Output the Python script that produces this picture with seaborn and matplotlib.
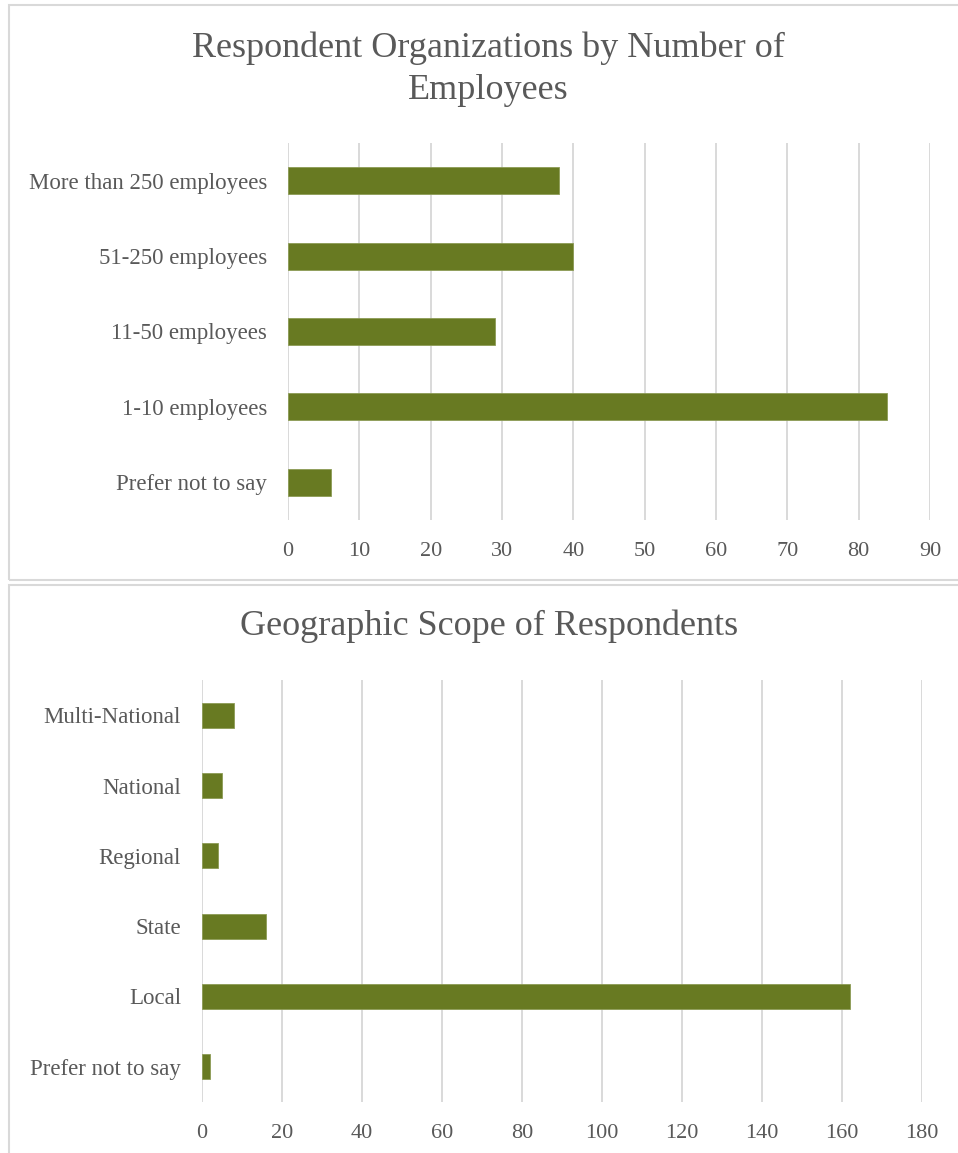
import matplotlib
matplotlib.use("Agg")
import matplotlib.pyplot as plt
from matplotlib.patches import Rectangle
import seaborn as sns
import pandas as pd

# data
size_labels = [
    "More than 250 employees",
    "51-250 employees",
    "11-50 employees",
    "1-10 employees",
    "Prefer not to say",
]
size_counts = [38, 40, 29, 84, 6]

scope_labels = [
    "Multi-National",
    "National",
    "Regional",
    "State",
    "Local",
    "Prefer not to say",
]
scope_counts = [8, 5, 4, 16, 162, 2]

bar_color = "#687a22"
text_color = "#595959"
grid_color = "#d9d9d9"

sns.set_style("whitegrid")
plt.rcParams["font.family"] = ["Liberation Serif", "DejaVu Serif"]

W, H = 958, 1153
fig = plt.figure(figsize=(W / 100, H / 100), dpi=100)


def px_axes(left, top, right, bottom):
    return fig.add_axes(
        [left / W, 1 - bottom / H, (right - left) / W, (bottom - top) / H]
    )


def style(ax, xmax, step):
    ax.set_xlim(0, xmax)
    ax.set_xticks(range(0, xmax + 1, step))
    ax.grid(axis="x", color=grid_color, linewidth=1.4)
    ax.grid(axis="y", visible=False)
    for s in ax.spines.values():
        s.set_visible(False)
    ax.set(xlabel="", ylabel="")
    ax.tick_params(axis="x", length=0, pad=16, labelsize=16, labelcolor=text_color)
    ax.tick_params(axis="y", length=0, pad=15, labelsize=16.5, labelcolor=text_color)


# chart frames
fig.patches.append(Rectangle((9 / W, 1 - 580 / H), 1, 575 / H, transform=fig.transFigure,
                             fill=False, edgecolor="#d9d9d9", linewidth=1.5))
fig.patches.append(Rectangle((9 / W, 0 - 0.01), 1, (1153 - 585) / H + 0.01,
                             transform=fig.transFigure, fill=False,
                             edgecolor="#d9d9d9", linewidth=1.5))

# top chart
df1 = pd.DataFrame({"label": size_labels, "count": size_counts})
ax1 = px_axes(288, 143, 930, 520)
sns.barplot(data=df1, y="label", x="count", orient="h", color=bar_color,
            width=0.36, saturation=1, edgecolor="#8c9b55", linewidth=0.6, ax=ax1)
ax1.set_ylim(4.5, -0.5)
style(ax1, 90, 10)
fig.text(488 / W, 1 - 69 / H, "Respondent Organizations by Number of\nEmployees",
         ha="center", va="center", fontsize=26, color=text_color, linespacing=1.35)

# bottom chart
df2 = pd.DataFrame({"label": scope_labels, "count": scope_counts})
ax2 = px_axes(202, 680, 922, 1102)
sns.barplot(data=df2, y="label", x="count", orient="h", color=bar_color,
            width=0.36, saturation=1, edgecolor="#8c9b55", linewidth=0.6, ax=ax2)
ax2.set_ylim(5.5, -0.5)
style(ax2, 180, 20)
fig.text(489 / W, 1 - 626 / H, "Geographic Scope of Respondents",
         ha="center", va="center", fontsize=26, color=text_color)

fig.savefig("out.png", dpi=100, facecolor="white")
